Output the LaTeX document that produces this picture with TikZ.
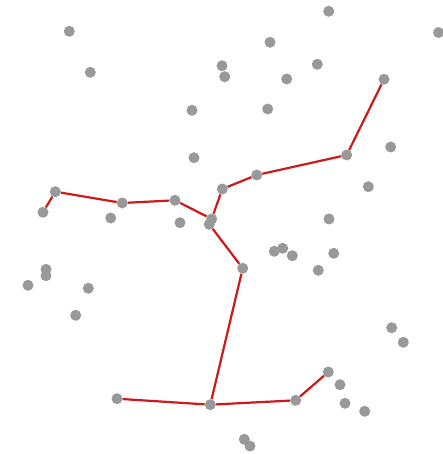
\documentclass[tikz,border=0pt]{standalone}
\definecolor{dotgray}{HTML}{999999}
\definecolor{edgered}{HTML}{CC1A1A}
\begin{document}
\begin{tikzpicture}[x=1pt,y=-1pt,
  pt/.style={circle,fill=dotgray,inner sep=0pt,minimum size=11pt},
  edge/.style={draw=edgered,line width=2.2pt}]
\useasboundingbox (0,0) rectangle (443,454);
% grey points
\node[pt] (p1) at (328.7,11.3) {};
\node[pt] (p2) at (69.3,31.3) {};
\node[pt] (p3) at (438.5,32.5) {};
\node[pt] (p4) at (270,42.3) {};
\node[pt] (p5) at (90.3,72.3) {};
\node[pt] (p6) at (222,65.7) {};
\node[pt] (p7) at (224.7,76.7) {};
\node[pt] (p8) at (317.3,64.3) {};
\node[pt] (p9) at (286.7,79) {};
\node[pt] (a1) at (384,79.3) {};
\node[pt] (p10) at (192,110.3) {};
\node[pt] (p11) at (267.7,109) {};
\node[pt] (p12) at (390.7,147) {};
\node[pt] (a2) at (346.7,155) {};
\node[pt] (p13) at (194,157.7) {};
\node[pt] (a3) at (256.7,175) {};
\node[pt] (p14) at (368.3,186.7) {};
\node[pt] (a4) at (222.3,189) {};
\node[pt] (b1) at (55.3,191.7) {};
\node[pt] (b2) at (122.3,203) {};
\node[pt] (b3) at (175,200.3) {};
\node[pt] (b0) at (43,212.3) {};
\node[pt] (p15) at (110.7,218) {};
\node[pt] (p16) at (329,219) {};
\node[pt] (p17) at (180,222.7) {};
\node[pt] (c1) at (211.7,219) {};
\node[pt] (c2) at (209.3,224.3) {};
\node[pt] (p18) at (274.3,251.3) {};
\node[pt] (p19) at (282.7,248.3) {};
\node[pt] (p20) at (292.3,255.7) {};
\node[pt] (p21) at (333.7,253.3) {};
\node[pt] (p22) at (318.3,270.3) {};
\node[pt] (d1) at (242.7,268.3) {};
\node[pt] (p23) at (46,269.3) {};
\node[pt] (p24) at (46,275.7) {};
\node[pt] (p25) at (28,285.3) {};
\node[pt] (p26) at (88.3,288.3) {};
\node[pt] (p27) at (75.7,315.3) {};
\node[pt] (p28) at (391.7,327.7) {};
\node[pt] (p29) at (403.3,342.3) {};
\node[pt] (e4) at (328.3,372) {};
\node[pt] (p30) at (340,384.7) {};
\node[pt] (p31) at (345,403.3) {};
\node[pt] (p32) at (364.7,411.3) {};
\node[pt] (e3) at (295.7,400.3) {};
\node[pt] (e2) at (210.3,404.7) {};
\node[pt] (e1) at (117,398.7) {};
\node[pt] (p33) at (244.3,439.3) {};
\node[pt] (p34) at (250,446) {};
% red tree edges
\draw[edge] (b0) -- (b1);
\draw[edge] (b1) -- (b2);
\draw[edge] (b2) -- (b3);
\draw[edge] (b3) -- (c1);
\draw[edge] (a4) -- (c1);
\draw[edge] (a4) -- (a3);
\draw[edge] (a3) -- (a2);
\draw[edge] (a2) -- (a1);
\draw[edge] (c2) -- (d1);
\draw[edge] (d1) -- (e2);
\draw[edge] (e1) -- (e2);
\draw[edge] (e2) -- (e3);
\draw[edge] (e3) -- (e4);
\end{tikzpicture}
\end{document}
